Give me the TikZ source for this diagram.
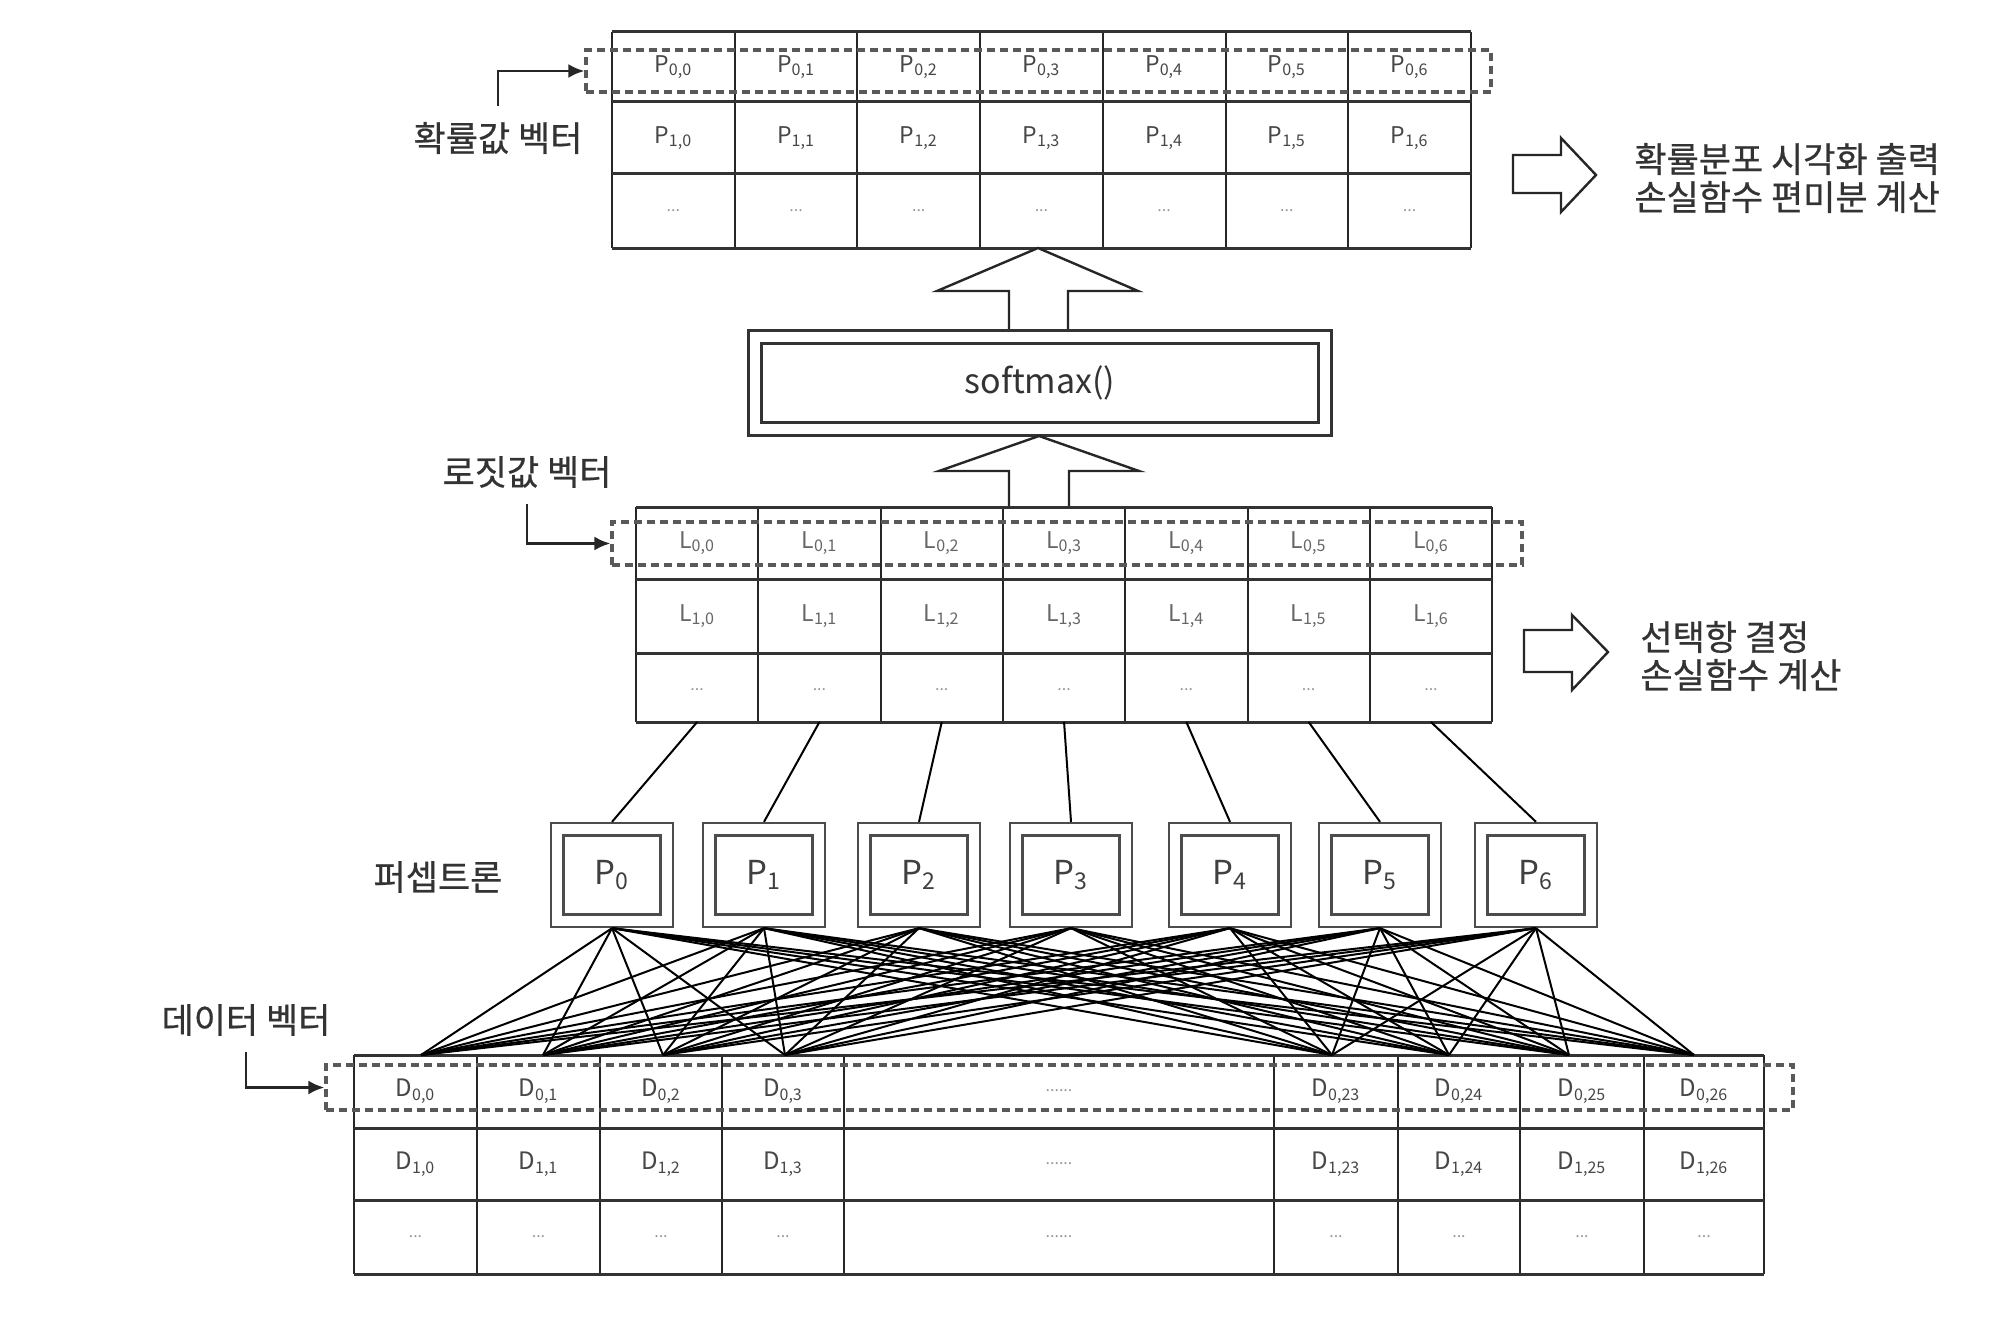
\documentclass[tikz,border=0pt]{standalone}
\usepackage{fontspec}
\setmainfont{Noto Sans CJK KR}
\newfontfamily\krb[FakeBold=0.6]{Noto Sans CJK KR}
\usetikzlibrary{arrows.meta}
\begin{document}
\begin{tikzpicture}[x=0.5pt,y=-0.5pt,
  tabv/.style={line width=1pt, draw=black!85},
  tabh/.style={line width=1.5pt, draw=black!80},
  cell/.style={text=black!72, font=\fontsize{11.5}{13}\selectfont, inner sep=0pt},
  lcell/.style={cell, text=black!60},
  dcell/.style={cell, font=\fontsize{12}{14}\selectfont},
  ell/.style={text=black!40, font=\fontsize{8}{10}\selectfont, inner sep=0pt},
  dashbox/.style={draw=black!65, line width=1.6pt, dash pattern=on 4pt off 2.5pt, inner sep=0pt},
  perc/.style={draw=black!70, line width=1.1pt, double, double distance=5.2pt,
    minimum width=54.75pt, minimum height=45.75pt, inner sep=0pt, outer sep=3.7pt,
    font=\fontsize{16.5}{18}\selectfont, text=black!75},
  smbox/.style={draw=black!80, line width=1.1pt, double, double distance=5.4pt,
    minimum width=285pt, minimum height=46pt, inner sep=0pt, outer sep=3.8pt,
    font=\fontsize{17}{20}\selectfont, text=black!80},
  blockarrow/.style={draw=black!85, line width=1.2pt, fill=white, line join=miter},
  klabel/.style={text=black!80, font=\krb\fontsize{17.5}{19}\selectfont, inner sep=0pt},
  labarrow/.style={line width=1.4pt, draw=black!85, -{Latex[length=8pt,width=7pt]}},
  wire/.style={line width=1pt, draw=black}
]
\fill[white] (0,0) rectangle (2000,1316);
\useasboundingbox (0,0) rectangle (2000,1316);

% ---------- top probability table ----------
\foreach \i in {0,...,7} \draw[tabv] ({612+122.7*\i},32) -- ({612+122.7*\i},248);
\foreach \y in {32,102,174,248} \draw[tabh] (612,\y) -- (1471,\y);
\node[dashbox, minimum width=452.5pt, minimum height=21pt] (dashP) at (1038.5,71) {};
\foreach \i in {0,...,6} {
  \node[cell] (p0c\i) at ({612+122.7*(\i+0.5)},67) {P\textsubscript{0,\i}};
  \node[cell] (p1c\i) at ({612+122.7*(\i+0.5)},138) {P\textsubscript{1,\i}};
  \node[ell] (p2c\i) at ({612+122.7*(\i+0.5)},211) {...};
}
\node[klabel] (lblP) at (498,138) {확률값 벡터};
\draw[labarrow] ([yshift=8pt]lblP.north) |- (dashP.west);

\draw[blockarrow] (1513,155) -- (1561,155) -- (1561,138) -- (1596,175) -- (1561,212) -- (1561,193) -- (1513,193) -- cycle;
\node[klabel, align=left, anchor=west] (outP) at (1634,178) {확률분포 시각화 출력\\손실함수 편미분 계산};

% ---------- softmax ----------
\draw[blockarrow] (1009,330) -- (1009,291) -- (937,291) -- (1038,248) -- (1138,291) -- (1068,291) -- (1068,330);
\node[smbox] (sm) at (1040,383) {softmax()};
\draw[blockarrow] (1009,507) -- (1009,471) -- (939,471) -- (1039,436) -- (1139,471) -- (1069,471) -- (1069,507);

% ---------- logit table ----------
\foreach \i in {0,...,7} \draw[tabv] ({636+122.3*\i},507) -- ({636+122.3*\i},722);
\foreach \y in {507,579,653,722} \draw[tabh] (636,\y) -- (1492,\y);
\node[dashbox, minimum width=455pt, minimum height=21.5pt] (dashL) at (1067,543.5) {};
\foreach \i in {0,...,6} {
  \node[lcell] (l0c\i) at ({636+122.3*(\i+0.5)},543) {L\textsubscript{0,\i}};
  \node[lcell] (l1c\i) at ({636+122.3*(\i+0.5)},616) {L\textsubscript{1,\i}};
  \node[ell] (l2c\i) at ({636+122.3*(\i+0.5)},690) {...};
  \coordinate (lb\i) at ({636+122.3*(\i+0.5)},722);
}
\node[klabel] (lblL) at (527,472) {로짓값 벡터};
\draw[labarrow] ([yshift=-8pt]lblL.south) |- (dashL.west);

\draw[blockarrow] (1524,630) -- (1572,630) -- (1572,615) -- (1608,652) -- (1572,690) -- (1572,672) -- (1524,672) -- cycle;
\node[klabel, align=left, anchor=west] (outL) at (1640,656) {선택항 결정\\손실함수 계산};

% ---------- data table ----------
\foreach \x in {354,477,600,722,844,1274,1398,1520,1644,1764} \draw[tabv] (\x,1055) -- (\x,1274);
\foreach \y in {1055,1128,1200,1274} \draw[tabh] (354,\y) -- (1764,\y);
\node[dashbox, minimum width=733.5pt, minimum height=22.5pt] (dashD) at (1059.5,1087.5) {};
\foreach \x/\n in {415.5/0, 538.5/1, 661/2, 783/3, 1336/23, 1459/24, 1582/25, 1704/26} {
  \node[dcell] (d0c\n) at (\x,1091) {D\textsubscript{0,\n}};
  \node[dcell] (d1c\n) at (\x,1164) {D\textsubscript{1,\n}};
  \node[ell] (d2c\n) at (\x,1237) {...};
}
\node[ell] (d0m) at (1059,1091) {......};
\node[ell] (d1m) at (1059,1164) {......};
\node[ell] (d2m) at (1059,1237) {......};
\foreach \x [count=\j] in {421,543,663,785,1332,1449,1569,1694} \coordinate (dt\j) at (\x,1055);
\node[klabel] (lblD) at (246,1020) {데이터 벡터};
\draw[labarrow] ([yshift=-8pt]lblD.south) |- (dashD.west);

% ---------- perceptrons ----------
\foreach \x [count=\k from 0] in {612,764,919,1071,1230,1380,1536}
  \node[perc] (P\k) at (\x,875) {P\textsubscript{\k}};
\node[klabel] (lblPc) at (438,877) {퍼셉트론};

\foreach \k in {0,...,6} {
  \draw[wire] (P\k.north) -- (lb\k);
  \foreach \j in {1,...,8} \draw[wire] (P\k.south) -- (dt\j);
}
\end{tikzpicture}
\end{document}
